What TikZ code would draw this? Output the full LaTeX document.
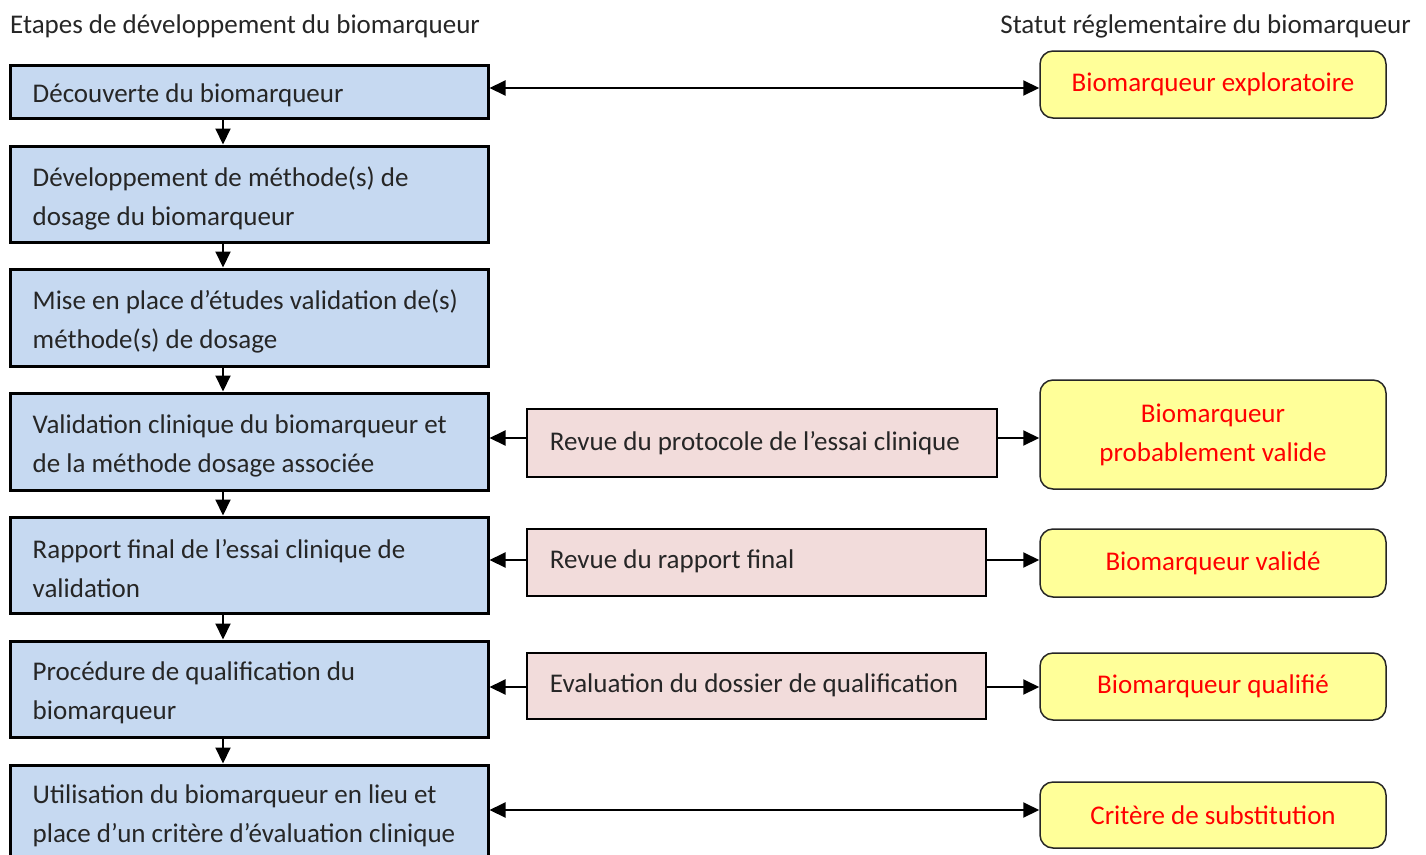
\documentclass[tikz,border=0pt]{standalone}
\usepackage{fontspec}
\setmainfont{Carlito}
\usetikzlibrary{arrows.meta,calc}
\definecolor{bluefill}{HTML}{C6D9F1}
\definecolor{pinkfill}{HTML}{F2DCDB}
\definecolor{yellowfill}{HTML}{FFFF99}
\definecolor{txt}{HTML}{262626}
\tikzset{
  every node/.style={font=\fontsize{27}{39}\selectfont, text=txt},
  bluebox/.style={draw=black, line width=3pt, fill=bluefill, minimum width=478pt, inner sep=0pt},
  pinkbox/.style={draw=black, line width=2.5pt, fill=pinkfill, inner sep=0pt},
  yellowbox/.style={draw=black!85, line width=1.5pt, fill=yellowfill, rounded corners=13pt, minimum width=346pt, align=center, inner sep=0pt, text=red},
  lbl/.style={anchor=west, align=left, inner sep=0pt},
  arr/.style={line width=2pt, -{Triangle[length=16pt,width=15pt]}},
  arrb/.style={line width=2pt, {Triangle[length=16pt,width=15pt]}-{Triangle[length=16pt,width=15pt]}},
}
\begin{document}
\begin{tikzpicture}[x=1pt,y=-1pt]
\useasboundingbox[fill=white] (0,0) rectangle (1426,854);
\node[anchor=west, inner sep=0pt] (h1) at (10,26) {Etapes de développement du biomarqueur};
\node[anchor=east, inner sep=0pt] (h2) at (1411,26) {Statut réglementaire du biomarqueur};
% blue boxes
\node[bluebox, minimum height=53pt] (b1) at (249,91.5) {};
\node[bluebox, minimum height=96pt] (b2) at (249,194) {};
\node[bluebox, minimum height=97pt] (b3) at (249,317.5) {};
\node[bluebox, minimum height=97pt] (b4) at (249,441.5) {};
\node[bluebox, minimum height=96pt] (b5) at (249,565) {};
\node[bluebox, minimum height=96pt] (b6) at (249,689) {};
\node[bluebox, minimum height=100pt] (b7) at (249,815) {};
\node[lbl] (t1) at ($(b1.west)+(24,3.5)$) {Découverte du biomarqueur};
\node[lbl] (t2) at ($(b2.west)+(24,4)$) {Développement de méthode(s) de\\dosage du biomarqueur};
\node[lbl] (t3) at ($(b3.west)+(24,4)$) {Mise en place d’études validation de(s)\\méthode(s) de dosage};
\node[lbl] (t4) at ($(b4.west)+(24,4)$) {Validation clinique du biomarqueur et\\de la méthode dosage associée};
\node[lbl] (t5) at ($(b5.west)+(24,4)$) {Rapport final de l’essai clinique de\\validation};
\node[lbl] (t6) at ($(b6.west)+(24,4)$) {Procédure de qualification du\\biomarqueur};
\node[lbl] (t7) at ($(b7.west)+(24,1)$) {Utilisation du biomarqueur en lieu et\\place d’un critère d’évaluation clinique};
% pink boxes
\node[pinkbox, minimum width=470pt, minimum height=68pt] (p4) at (762,443) {};
\node[pinkbox, minimum width=459pt, minimum height=67pt] (p5) at (756.5,562.5) {};
\node[pinkbox, minimum width=459pt, minimum height=66pt] (p6) at (756.5,686) {};
\node[lbl] (q4) at ($(p4.west)+(24,0)$) {Revue du protocole de l’essai clinique};
\node[lbl] (q5) at ($(p5.west)+(24,-1)$) {Revue du rapport final};
\node[lbl] (q6) at ($(p6.west)+(24,-1)$) {Evaluation du dossier de qualification};
% yellow boxes
\node[yellowbox, minimum height=67pt] (y1) at (1213,84.5) {Biomarqueur exploratoire};
\node[yellowbox, minimum height=109pt] (y4) at (1213,434.5) {Biomarqueur\\probablement valide};
\node[yellowbox, minimum height=68pt] (y5) at (1213,563) {Biomarqueur validé};
\node[yellowbox, minimum height=67pt] (y6) at (1213,686.5) {Biomarqueur qualifié};
\node[yellowbox, minimum height=66pt] (y7) at (1213,815) {Critère de substitution};
% vertical arrows
\coordinate (ax) at (223,0);
\draw[arr] (b1.south -| ax) -- (b2.north -| ax);
\draw[arr] (b2.south -| ax) -- (b3.north -| ax);
\draw[arr] (b3.south -| ax) -- (b4.north -| ax);
\draw[arr] (b4.south -| ax) -- (b5.north -| ax);
\draw[arr] (b5.south -| ax) -- (b6.north -| ax);
\draw[arr] (b6.south -| ax) -- (b7.north -| ax);
% horizontal arrows
\draw[arrb] (b1.east |- 0,88) -- (y1.west |- 0,88);
\draw[arr] (p4.west |- 0,438) -- (b4.east |- 0,438);
\draw[arr] (p4.east |- 0,438) -- (y4.west |- 0,438);
\draw[arr] (p5.west |- 0,560) -- (b5.east |- 0,560);
\draw[arr] (p5.east |- 0,560) -- (y5.west |- 0,560);
\draw[arr] (p6.west |- 0,687) -- (b6.east |- 0,687);
\draw[arr] (p6.east |- 0,687) -- (y6.west |- 0,687);
\draw[arrb] (b7.east |- 0,810) -- (y7.west |- 0,810);
\end{tikzpicture}
\end{document}
